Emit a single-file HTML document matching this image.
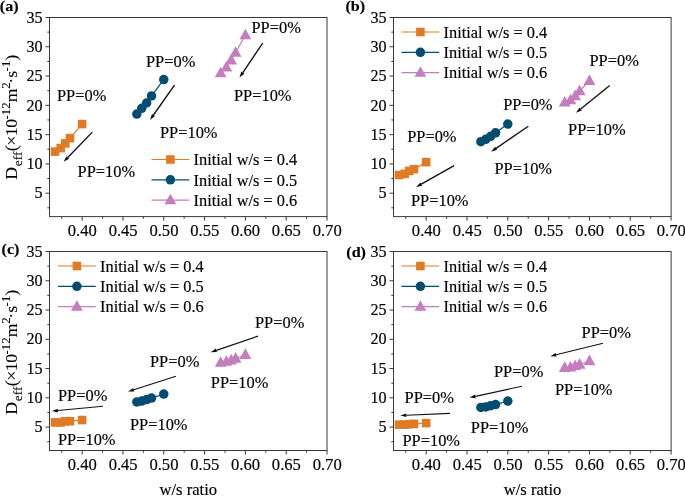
<!DOCTYPE html>
<html><head><meta charset="utf-8"><title>Deff vs w/s ratio</title>
<style>
html,body{margin:0;padding:0;background:#fff;}
body{width:685px;height:496px;overflow:hidden;}
svg{display:block;font-family:"Liberation Serif", serif;font-size:16.6px;fill:#000;opacity:0.999;will-change:transform;}
text{stroke:#000;stroke-width:0.16px;}
</style></head><body>
<svg width="685" height="496" viewBox="0 0 685 496">
<rect width="685" height="496" fill="#fff"/>
<g><rect x="49.50" y="17.50" width="277.50" height="199.10" fill="#fff" stroke="#383838" stroke-width="1"/><path d="M61.74 216.60v2.2M82.15 216.60v4.0M102.55 216.60v2.2M122.96 216.60v4.0M143.36 216.60v2.2M163.76 216.60v4.0M184.17 216.60v2.2M204.57 216.60v4.0M224.98 216.60v2.2M245.38 216.60v4.0M265.79 216.60v2.2M286.19 216.60v4.0M306.60 216.60v2.2M327.00 216.60v4.0M49.50 207.82h-2.2M49.50 193.18h-4.0M49.50 178.54h-2.2M49.50 163.90h-4.0M49.50 149.26h-2.2M49.50 134.62h-4.0M49.50 119.98h-2.2M49.50 105.34h-4.0M49.50 90.70h-2.2M49.50 76.06h-4.0M49.50 61.42h-2.2M49.50 46.78h-4.0M49.50 32.14h-2.2M49.50 17.50h-4.0" stroke="#383838" stroke-width="1" fill="none"/><text x="82.35" y="236.20" text-anchor="middle">0.40</text><text x="123.16" y="236.20" text-anchor="middle">0.45</text><text x="163.96" y="236.20" text-anchor="middle">0.50</text><text x="204.77" y="236.20" text-anchor="middle">0.55</text><text x="245.58" y="236.20" text-anchor="middle">0.60</text><text x="286.39" y="236.20" text-anchor="middle">0.65</text><text x="327.20" y="236.20" text-anchor="middle">0.70</text><text x="42.50" y="198.38" text-anchor="end" font-size="16.1">5</text><text x="42.50" y="169.10" text-anchor="end" font-size="16.1">10</text><text x="42.50" y="139.82" text-anchor="end" font-size="16.1">15</text><text x="42.50" y="110.54" text-anchor="end" font-size="16.1">20</text><text x="42.50" y="81.26" text-anchor="end" font-size="16.1">25</text><text x="42.50" y="51.98" text-anchor="end" font-size="16.1">30</text><text x="42.50" y="22.70" text-anchor="end" font-size="16.1">35</text><polyline points="55.05,151.60 60.68,148.09 65.25,143.40 69.99,138.13 82.15,124.08" fill="none" stroke="#E07B25" stroke-width="1.2"/><rect x="50.75" y="147.30" width="8.60" height="8.60" fill="#E07B25"/><rect x="56.38" y="143.79" width="8.60" height="8.60" fill="#E07B25"/><rect x="60.95" y="139.10" width="8.60" height="8.60" fill="#E07B25"/><rect x="65.69" y="133.83" width="8.60" height="8.60" fill="#E07B25"/><rect x="77.85" y="119.78" width="8.60" height="8.60" fill="#E07B25"/><polyline points="136.83,114.12 141.73,108.27 146.62,103.00 151.52,95.97 163.76,79.57" fill="none" stroke="#034C71" stroke-width="1.2"/><circle cx="136.83" cy="114.12" r="4.75" fill="#034C71"/><circle cx="141.73" cy="108.27" r="4.75" fill="#034C71"/><circle cx="146.62" cy="103.00" r="4.75" fill="#034C71"/><circle cx="151.52" cy="95.97" r="4.75" fill="#034C71"/><circle cx="163.76" cy="79.57" r="4.75" fill="#034C71"/><polyline points="220.65,73.13 226.37,67.28 231.10,60.25 235.59,52.64 245.38,35.07" fill="none" stroke="#C47EBD" stroke-width="1.2"/><path d="M220.65 66.73L226.55 77.33L214.75 77.33Z" fill="#C47EBD"/><path d="M226.37 60.88L232.27 71.47L220.47 71.47Z" fill="#C47EBD"/><path d="M231.10 53.85L237.00 64.45L225.20 64.45Z" fill="#C47EBD"/><path d="M235.59 46.24L241.49 56.83L229.69 56.83Z" fill="#C47EBD"/><path d="M245.38 28.67L251.28 39.27L239.48 39.27Z" fill="#C47EBD"/><line x1="151.50" y1="159.50" x2="189.20" y2="159.50" stroke="#E07B25" stroke-width="1.2"/><rect x="166.10" y="155.20" width="8.60" height="8.60" fill="#E07B25"/><text x="193.60" y="165.30" font-size="16.35">Initial w/s = 0.4</text><line x1="151.50" y1="179.80" x2="189.20" y2="179.80" stroke="#034C71" stroke-width="1.2"/><circle cx="170.40" cy="179.80" r="4.75" fill="#034C71"/><text x="193.60" y="185.60" font-size="16.35">Initial w/s = 0.5</text><line x1="151.50" y1="200.10" x2="189.20" y2="200.10" stroke="#C47EBD" stroke-width="1.2"/><path d="M170.40 193.70L176.30 204.30L164.50 204.30Z" fill="#C47EBD"/><text x="193.60" y="205.90" font-size="16.35">Initial w/s = 0.6</text><text x="57" y="100.9" font-size="16.4">PP=0%</text><text x="146" y="67.2" font-size="16.4">PP=0%</text><text x="251.5" y="33.4" font-size="16.4">PP=0%</text><text x="77.6" y="177.4" font-size="16.4">PP=10%</text><text x="160" y="137.6" font-size="16.4">PP=10%</text><text x="234" y="101.3" font-size="16.4">PP=10%</text><line x1="92.30" y1="132.10" x2="67.77" y2="157.49" stroke="#111" stroke-width="1.35"/><path d="M63.60 161.80L66.44 156.20L69.10 158.77Z" fill="#111"/><line x1="174.50" y1="85.10" x2="153.45" y2="114.99" stroke="#111" stroke-width="1.35"/><path d="M150.00 119.90L151.94 113.93L154.97 116.06Z" fill="#111"/><line x1="262.70" y1="43.10" x2="242.85" y2="72.62" stroke="#111" stroke-width="1.35"/><path d="M239.50 77.60L241.31 71.59L244.38 73.65Z" fill="#111"/><text transform="translate(-0.2,10.8) scale(1.04,1)" font-weight="bold" font-size="15.5">(a)</text></g>
<g><rect x="393.50" y="17.50" width="277.60" height="199.10" fill="#fff" stroke="#383838" stroke-width="1"/><path d="M405.75 216.60v2.2M426.16 216.60v4.0M446.57 216.60v2.2M466.98 216.60v4.0M487.39 216.60v2.2M507.81 216.60v4.0M528.22 216.60v2.2M548.63 216.60v4.0M569.04 216.60v2.2M589.45 216.60v4.0M609.86 216.60v2.2M630.28 216.60v4.0M650.69 216.60v2.2M671.10 216.60v4.0M393.50 207.82h-2.2M393.50 193.18h-4.0M393.50 178.54h-2.2M393.50 163.90h-4.0M393.50 149.26h-2.2M393.50 134.62h-4.0M393.50 119.98h-2.2M393.50 105.34h-4.0M393.50 90.70h-2.2M393.50 76.06h-4.0M393.50 61.42h-2.2M393.50 46.78h-4.0M393.50 32.14h-2.2M393.50 17.50h-4.0" stroke="#383838" stroke-width="1" fill="none"/><text x="426.36" y="236.20" text-anchor="middle">0.40</text><text x="467.18" y="236.20" text-anchor="middle">0.45</text><text x="508.01" y="236.20" text-anchor="middle">0.50</text><text x="548.83" y="236.20" text-anchor="middle">0.55</text><text x="589.65" y="236.20" text-anchor="middle">0.60</text><text x="630.48" y="236.20" text-anchor="middle">0.65</text><text x="671.30" y="236.20" text-anchor="middle">0.70</text><text x="386.50" y="198.38" text-anchor="end" font-size="16.1">5</text><text x="386.50" y="169.10" text-anchor="end" font-size="16.1">10</text><text x="386.50" y="139.82" text-anchor="end" font-size="16.1">15</text><text x="386.50" y="110.54" text-anchor="end" font-size="16.1">20</text><text x="386.50" y="81.26" text-anchor="end" font-size="16.1">25</text><text x="386.50" y="51.98" text-anchor="end" font-size="16.1">30</text><text x="386.50" y="22.70" text-anchor="end" font-size="16.1">35</text><polyline points="399.05,175.02 404.69,173.85 409.26,170.92 413.99,169.17 426.16,162.14" fill="none" stroke="#E07B25" stroke-width="1.2"/><rect x="394.75" y="170.72" width="8.60" height="8.60" fill="#E07B25"/><rect x="400.39" y="169.55" width="8.60" height="8.60" fill="#E07B25"/><rect x="404.96" y="166.62" width="8.60" height="8.60" fill="#E07B25"/><rect x="409.69" y="164.87" width="8.60" height="8.60" fill="#E07B25"/><rect x="421.86" y="157.84" width="8.60" height="8.60" fill="#E07B25"/><polyline points="480.86,141.64 485.76,139.30 490.66,136.37 495.56,132.86 507.81,124.08" fill="none" stroke="#034C71" stroke-width="1.2"/><circle cx="480.86" cy="141.64" r="4.75" fill="#034C71"/><circle cx="485.76" cy="139.30" r="4.75" fill="#034C71"/><circle cx="490.66" cy="136.37" r="4.75" fill="#034C71"/><circle cx="495.56" cy="132.86" r="4.75" fill="#034C71"/><circle cx="507.81" cy="124.08" r="4.75" fill="#034C71"/><polyline points="564.71,102.41 570.43,100.07 575.16,95.97 579.66,90.99 589.45,80.86" fill="none" stroke="#C47EBD" stroke-width="1.2"/><path d="M564.71 96.01L570.61 106.61L558.81 106.61Z" fill="#C47EBD"/><path d="M570.43 93.67L576.33 104.27L564.53 104.27Z" fill="#C47EBD"/><path d="M575.16 89.57L581.06 100.17L569.26 100.17Z" fill="#C47EBD"/><path d="M579.66 84.59L585.56 95.19L573.76 95.19Z" fill="#C47EBD"/><path d="M589.45 74.46L595.35 85.06L583.55 85.06Z" fill="#C47EBD"/><line x1="401.50" y1="32.00" x2="439.20" y2="32.00" stroke="#E07B25" stroke-width="1.2"/><rect x="416.10" y="27.70" width="8.60" height="8.60" fill="#E07B25"/><text x="443.60" y="37.80" font-size="16.35">Initial w/s = 0.4</text><line x1="401.50" y1="52.30" x2="439.20" y2="52.30" stroke="#034C71" stroke-width="1.2"/><circle cx="420.40" cy="52.30" r="4.75" fill="#034C71"/><text x="443.60" y="58.10" font-size="16.35">Initial w/s = 0.5</text><line x1="401.50" y1="72.60" x2="439.20" y2="72.60" stroke="#C47EBD" stroke-width="1.2"/><path d="M420.40 66.20L426.30 76.80L414.50 76.80Z" fill="#C47EBD"/><text x="443.60" y="78.40" font-size="16.35">Initial w/s = 0.6</text><text x="407.2" y="142.4" font-size="16.4">PP=0%</text><text x="503.2" y="109.5" font-size="16.4">PP=0%</text><text x="589.5" y="66.4" font-size="16.4">PP=0%</text><text x="411" y="206.3" font-size="16.4">PP=10%</text><text x="494.5" y="174" font-size="16.4">PP=10%</text><text x="568.1" y="135.4" font-size="16.4">PP=10%</text><line x1="454.10" y1="165.70" x2="421.33" y2="184.07" stroke="#111" stroke-width="1.35"/><path d="M416.10 187.00L420.43 182.45L422.24 185.68Z" fill="#111"/><line x1="528.30" y1="126.30" x2="496.06" y2="148.32" stroke="#111" stroke-width="1.35"/><path d="M491.10 151.70L495.01 146.79L497.10 149.84Z" fill="#111"/><line x1="609.70" y1="85.50" x2="580.66" y2="109.02" stroke="#111" stroke-width="1.35"/><path d="M576.00 112.80L579.50 107.59L581.83 110.46Z" fill="#111"/><text transform="translate(345.45,10.7) scale(1.04,1)" font-weight="bold" font-size="15.5">(b)</text></g>
<g><rect x="49.50" y="251.50" width="277.50" height="199.00" fill="#fff" stroke="#383838" stroke-width="1"/><path d="M61.74 450.50v2.2M82.15 450.50v4.0M102.55 450.50v2.2M122.96 450.50v4.0M143.36 450.50v2.2M163.76 450.50v4.0M184.17 450.50v2.2M204.57 450.50v4.0M224.98 450.50v2.2M245.38 450.50v4.0M265.79 450.50v2.2M286.19 450.50v4.0M306.60 450.50v2.2M327.00 450.50v4.0M49.50 441.72h-2.2M49.50 427.09h-4.0M49.50 412.46h-2.2M49.50 397.82h-4.0M49.50 383.19h-2.2M49.50 368.56h-4.0M49.50 353.93h-2.2M49.50 339.29h-4.0M49.50 324.66h-2.2M49.50 310.03h-4.0M49.50 295.40h-2.2M49.50 280.76h-4.0M49.50 266.13h-2.2M49.50 251.50h-4.0" stroke="#383838" stroke-width="1" fill="none"/><text x="82.35" y="470.10" text-anchor="middle">0.40</text><text x="123.16" y="470.10" text-anchor="middle">0.45</text><text x="163.96" y="470.10" text-anchor="middle">0.50</text><text x="204.77" y="470.10" text-anchor="middle">0.55</text><text x="245.58" y="470.10" text-anchor="middle">0.60</text><text x="286.39" y="470.10" text-anchor="middle">0.65</text><text x="327.20" y="470.10" text-anchor="middle">0.70</text><text x="42.50" y="432.29" text-anchor="end" font-size="16.1">5</text><text x="42.50" y="403.02" text-anchor="end" font-size="16.1">10</text><text x="42.50" y="373.76" text-anchor="end" font-size="16.1">15</text><text x="42.50" y="344.49" text-anchor="end" font-size="16.1">20</text><text x="42.50" y="315.23" text-anchor="end" font-size="16.1">25</text><text x="42.50" y="285.96" text-anchor="end" font-size="16.1">30</text><text x="42.50" y="256.70" text-anchor="end" font-size="16.1">35</text><polyline points="55.05,422.41 60.68,422.41 65.25,421.24 69.99,421.24 82.15,420.06" fill="none" stroke="#E07B25" stroke-width="1.2"/><rect x="50.75" y="418.11" width="8.60" height="8.60" fill="#E07B25"/><rect x="56.38" y="418.11" width="8.60" height="8.60" fill="#E07B25"/><rect x="60.95" y="416.94" width="8.60" height="8.60" fill="#E07B25"/><rect x="65.69" y="416.94" width="8.60" height="8.60" fill="#E07B25"/><rect x="77.85" y="415.76" width="8.60" height="8.60" fill="#E07B25"/><polyline points="136.83,401.92 141.73,401.04 146.62,399.58 151.52,398.12 163.76,394.02" fill="none" stroke="#034C71" stroke-width="1.2"/><circle cx="136.83" cy="401.92" r="4.75" fill="#034C71"/><circle cx="141.73" cy="401.04" r="4.75" fill="#034C71"/><circle cx="146.62" cy="399.58" r="4.75" fill="#034C71"/><circle cx="151.52" cy="398.12" r="4.75" fill="#034C71"/><circle cx="163.76" cy="394.02" r="4.75" fill="#034C71"/><polyline points="220.65,362.53 226.37,361.54 231.10,360.25 235.59,358.49 245.38,354.75" fill="none" stroke="#C47EBD" stroke-width="1.2"/><path d="M220.65 356.13L226.55 366.73L214.75 366.73Z" fill="#C47EBD"/><path d="M226.37 355.14L232.27 365.73L220.47 365.73Z" fill="#C47EBD"/><path d="M231.10 353.85L237.00 364.45L225.20 364.45Z" fill="#C47EBD"/><path d="M235.59 352.09L241.49 362.69L229.69 362.69Z" fill="#C47EBD"/><path d="M245.38 348.35L251.28 358.94L239.48 358.94Z" fill="#C47EBD"/><line x1="58.00" y1="266.00" x2="95.70" y2="266.00" stroke="#E07B25" stroke-width="1.2"/><rect x="72.60" y="261.70" width="8.60" height="8.60" fill="#E07B25"/><text x="100.10" y="271.80" font-size="16.35">Initial w/s = 0.4</text><line x1="58.00" y1="286.30" x2="95.70" y2="286.30" stroke="#034C71" stroke-width="1.2"/><circle cx="76.90" cy="286.30" r="4.75" fill="#034C71"/><text x="100.10" y="292.10" font-size="16.35">Initial w/s = 0.5</text><line x1="58.00" y1="306.60" x2="95.70" y2="306.60" stroke="#C47EBD" stroke-width="1.2"/><path d="M76.90 300.20L82.80 310.80L71.00 310.80Z" fill="#C47EBD"/><text x="100.10" y="312.40" font-size="16.35">Initial w/s = 0.6</text><text x="58" y="400.5" font-size="16.4">PP=0%</text><text x="150" y="367" font-size="16.4">PP=0%</text><text x="255" y="328" font-size="16.4">PP=0%</text><text x="58" y="445" font-size="16.4">PP=10%</text><text x="130" y="430" font-size="16.4">PP=10%</text><text x="210.8" y="387.6" font-size="16.4">PP=10%</text><line x1="103.00" y1="406.30" x2="57.87" y2="410.54" stroke="#111" stroke-width="1.15"/><path d="M51.90 411.10L57.70 408.70L58.05 412.38Z" fill="#111"/><line x1="175.90" y1="376.30" x2="133.72" y2="389.77" stroke="#111" stroke-width="1.15"/><path d="M128.00 391.60L133.15 388.01L134.28 391.54Z" fill="#111"/><line x1="258.00" y1="336.10" x2="216.38" y2="350.36" stroke="#111" stroke-width="1.15"/><path d="M210.70 352.30L215.78 348.61L216.98 352.11Z" fill="#111"/><text transform="translate(1.6,253.8) scale(1.04,1)" font-weight="bold" font-size="15.5">(c)</text></g>
<g><rect x="393.50" y="251.50" width="277.60" height="199.00" fill="#fff" stroke="#383838" stroke-width="1"/><path d="M405.75 450.50v2.2M426.16 450.50v4.0M446.57 450.50v2.2M466.98 450.50v4.0M487.39 450.50v2.2M507.81 450.50v4.0M528.22 450.50v2.2M548.63 450.50v4.0M569.04 450.50v2.2M589.45 450.50v4.0M609.86 450.50v2.2M630.28 450.50v4.0M650.69 450.50v2.2M671.10 450.50v4.0M393.50 441.72h-2.2M393.50 427.09h-4.0M393.50 412.46h-2.2M393.50 397.82h-4.0M393.50 383.19h-2.2M393.50 368.56h-4.0M393.50 353.93h-2.2M393.50 339.29h-4.0M393.50 324.66h-2.2M393.50 310.03h-4.0M393.50 295.40h-2.2M393.50 280.76h-4.0M393.50 266.13h-2.2M393.50 251.50h-4.0" stroke="#383838" stroke-width="1" fill="none"/><text x="426.36" y="470.10" text-anchor="middle">0.40</text><text x="467.18" y="470.10" text-anchor="middle">0.45</text><text x="508.01" y="470.10" text-anchor="middle">0.50</text><text x="548.83" y="470.10" text-anchor="middle">0.55</text><text x="589.65" y="470.10" text-anchor="middle">0.60</text><text x="630.48" y="470.10" text-anchor="middle">0.65</text><text x="671.30" y="470.10" text-anchor="middle">0.70</text><text x="386.50" y="432.29" text-anchor="end" font-size="16.1">5</text><text x="386.50" y="403.02" text-anchor="end" font-size="16.1">10</text><text x="386.50" y="373.76" text-anchor="end" font-size="16.1">15</text><text x="386.50" y="344.49" text-anchor="end" font-size="16.1">20</text><text x="386.50" y="315.23" text-anchor="end" font-size="16.1">25</text><text x="386.50" y="285.96" text-anchor="end" font-size="16.1">30</text><text x="386.50" y="256.70" text-anchor="end" font-size="16.1">35</text><polyline points="399.05,424.63 404.69,424.63 409.26,424.16 413.99,423.87 426.16,423.11" fill="none" stroke="#E07B25" stroke-width="1.2"/><rect x="394.75" y="420.33" width="8.60" height="8.60" fill="#E07B25"/><rect x="400.39" y="420.33" width="8.60" height="8.60" fill="#E07B25"/><rect x="404.96" y="419.86" width="8.60" height="8.60" fill="#E07B25"/><rect x="409.69" y="419.57" width="8.60" height="8.60" fill="#E07B25"/><rect x="421.86" y="418.81" width="8.60" height="8.60" fill="#E07B25"/><polyline points="480.86,407.48 485.76,406.90 490.66,405.73 495.56,404.55 507.81,401.04" fill="none" stroke="#034C71" stroke-width="1.2"/><circle cx="480.86" cy="407.48" r="4.75" fill="#034C71"/><circle cx="485.76" cy="406.90" r="4.75" fill="#034C71"/><circle cx="490.66" cy="405.73" r="4.75" fill="#034C71"/><circle cx="495.56" cy="404.55" r="4.75" fill="#034C71"/><circle cx="507.81" cy="401.04" r="4.75" fill="#034C71"/><polyline points="564.71,367.68 570.43,367.39 575.16,365.93 579.66,364.46 589.45,360.95" fill="none" stroke="#C47EBD" stroke-width="1.2"/><path d="M564.71 361.28L570.61 371.88L558.81 371.88Z" fill="#C47EBD"/><path d="M570.43 360.99L576.33 371.59L564.53 371.59Z" fill="#C47EBD"/><path d="M575.16 359.53L581.06 370.12L569.26 370.12Z" fill="#C47EBD"/><path d="M579.66 358.06L585.56 368.66L573.76 368.66Z" fill="#C47EBD"/><path d="M589.45 354.55L595.35 365.15L583.55 365.15Z" fill="#C47EBD"/><line x1="401.50" y1="266.00" x2="439.20" y2="266.00" stroke="#E07B25" stroke-width="1.2"/><rect x="416.10" y="261.70" width="8.60" height="8.60" fill="#E07B25"/><text x="443.60" y="271.80" font-size="16.35">Initial w/s = 0.4</text><line x1="401.50" y1="286.30" x2="439.20" y2="286.30" stroke="#034C71" stroke-width="1.2"/><circle cx="420.40" cy="286.30" r="4.75" fill="#034C71"/><text x="443.60" y="292.10" font-size="16.35">Initial w/s = 0.5</text><line x1="401.50" y1="306.60" x2="439.20" y2="306.60" stroke="#C47EBD" stroke-width="1.2"/><path d="M420.40 300.20L426.30 310.80L414.50 310.80Z" fill="#C47EBD"/><text x="443.60" y="312.40" font-size="16.35">Initial w/s = 0.6</text><text x="404.6" y="403" font-size="16.4">PP=0%</text><text x="494" y="377" font-size="16.4">PP=0%</text><text x="581.6" y="338" font-size="16.4">PP=0%</text><text x="402.5" y="446" font-size="16.4">PP=10%</text><text x="470.8" y="432.6" font-size="16.4">PP=10%</text><text x="555" y="395" font-size="16.4">PP=10%</text><line x1="450.00" y1="413.40" x2="406.29" y2="415.25" stroke="#111" stroke-width="1.15"/><path d="M400.30 415.50L406.22 413.40L406.37 417.10Z" fill="#111"/><line x1="521.90" y1="386.20" x2="475.46" y2="396.32" stroke="#111" stroke-width="1.15"/><path d="M469.60 397.60L475.07 394.51L475.86 398.13Z" fill="#111"/><line x1="603.00" y1="343.30" x2="556.13" y2="354.77" stroke="#111" stroke-width="1.15"/><path d="M550.30 356.20L555.69 352.98L556.57 356.57Z" fill="#111"/><text transform="translate(346.3,256.7) scale(1.04,1)" font-weight="bold" font-size="15.5">(d)</text></g>
<text transform="translate(17.3,117.2) rotate(-90) scale(1.09,1)" text-anchor="middle" font-size="16.4" style="font-variant-ligatures:none;stroke-width:0.08px"><tspan>D</tspan><tspan font-size="12.4" dy="4.60" dx="0.50">eff</tspan><tspan dy="-4.60" dx="0.10">(</tspan><tspan dx="-0.35">×</tspan><tspan dx="-0.55">1</tspan><tspan dx="-0.37">0</tspan><tspan font-size="11.8" dy="-7.40" dx="-0.56">-12</tspan><tspan dy="7.40">m</tspan><tspan font-size="11.8" dy="-7.40" dx="-0.32">2</tspan><tspan dy="7.40" dx="-1.24">·</tspan><tspan>s</tspan><tspan font-size="11.8" dy="-7.40" dx="-0.55">-1</tspan><tspan dy="7.40">)</tspan></text><text transform="translate(17.3,352.2) rotate(-90) scale(1.09,1)" text-anchor="middle" font-size="16.4" style="font-variant-ligatures:none;stroke-width:0.08px"><tspan>D</tspan><tspan font-size="12.4" dy="4.60" dx="0.50">eff</tspan><tspan dy="-4.60" dx="0.10">(</tspan><tspan dx="-0.35">×</tspan><tspan dx="-0.55">1</tspan><tspan dx="-0.37">0</tspan><tspan font-size="11.8" dy="-7.40" dx="-0.56">-12</tspan><tspan dy="7.40">m</tspan><tspan font-size="11.8" dy="-7.40" dx="-0.32">2</tspan><tspan dy="7.40" dx="-1.24">·</tspan><tspan>s</tspan><tspan font-size="11.8" dy="-7.40" dx="-0.55">-1</tspan><tspan dy="7.40">)</tspan></text><text x="188.3" y="494.6" text-anchor="middle" font-size="16.6">w/s ratio</text><text x="532.5" y="494.6" text-anchor="middle" font-size="16.6">w/s ratio</text>
</svg>
</body></html>
